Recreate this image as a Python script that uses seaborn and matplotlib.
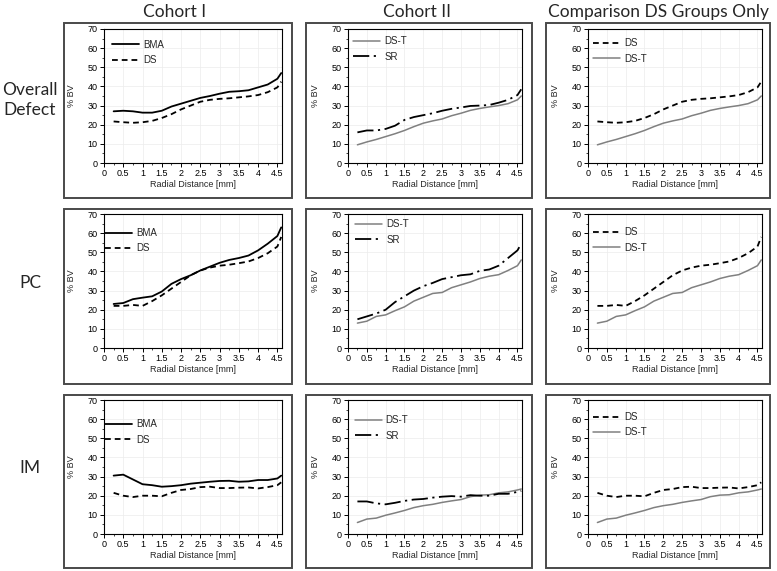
import numpy as np
import pandas as pd
import matplotlib
matplotlib.use("Agg")
import matplotlib.pyplot as plt
import seaborn as sns
from matplotlib.patches import Rectangle
from matplotlib.ticker import MultipleLocator

# ---------------- data ----------------
radial = [0.25, 0.5, 0.75, 1.0, 1.25, 1.5, 1.75, 2.0, 2.25, 2.5, 2.75,
          3.0, 3.25, 3.5, 3.75, 4.0, 4.25, 4.5, 4.6]

od_bma = [27, 27.3, 27, 26.3, 26.3, 27.3, 29.5, 31, 32.5, 34, 35, 36.2, 37.2, 37.5, 38, 39.5, 41, 44, 47]
od_ds = [21.7, 21.3, 21, 21.3, 22, 23.5, 25.5, 28, 30, 32, 33, 33.5, 33.8, 34.3, 34.8, 35.5, 37, 39.5, 42.5]
od_dst = [9.5, 11, 12.3, 13.8, 15.3, 17, 19, 20.8, 22, 23, 24.7, 26, 27.5, 28.5, 29.3, 30, 31, 33, 35]
od_sr = [16, 17, 17, 17.8, 19.5, 22.5, 24, 25, 26, 27.3, 28.3, 29, 29.8, 30, 30.3, 31.5, 33, 35.5, 38.5]

pc_bma = [23, 23.5, 25.5, 26.3, 27, 29.5, 33.5, 36, 38, 40.5, 42.5, 44.5, 46, 47, 48.3, 51, 54.5, 58.5, 63]
pc_ds = [22, 22, 22.5, 22, 24.5, 27.5, 31, 34.5, 38, 40.5, 42, 43, 43.5, 44.3, 45.2, 47, 49.5, 53, 58]
pc_dst = [13, 14, 16.5, 17.3, 19.5, 21.5, 24.5, 26.5, 28.5, 29, 31.5, 33, 34.5, 36.3, 37.5, 38.3, 40.5, 43, 46]
pc_sr = [15, 16.5, 18, 20, 24, 27, 30, 32.3, 34, 36, 37, 38, 38.5, 40.3, 41, 43, 47, 51, 54.5]

im_bma = [30.5, 31, 28.5, 26, 25.5, 24.7, 25, 25.5, 26.3, 26.8, 27.3, 27.7, 27.8, 27.3, 27.5, 28.2, 28.2, 29, 30.5]
im_ds = [21.5, 20, 19.3, 20, 20, 19.7, 21.5, 23, 23.5, 24.5, 24.7, 24, 24, 24.2, 24.3, 23.8, 24.5, 25.5, 27]
im_dst = [6, 7.8, 8.3, 9.8, 11, 12.3, 13.8, 14.8, 15.5, 16.5, 17.3, 18, 19.5, 20.3, 20.5, 21.5, 22, 23, 23.5]
im_sr = [17, 17, 16, 15.5, 16.3, 17.3, 18, 18.3, 19, 19.5, 19.8, 19.5, 20.3, 20, 20, 21, 21, 22, 22.5]

col_titles = ["Cohort I", "Cohort II", "Comparison DS Groups Only"]
row_titles = ["Overall\nDefect", "PC", "IM"]
x_label = "Radial Distance [mm]"
y_label = "% BV"

series = {
    "BMA": dict(color="black", lw=1.3, ls="-"),
    "DS": dict(color="black", lw=1.3, ls=(0, (3.2, 2.2))),
    "DS-T": dict(color="#808080", lw=1.1, ls="-"),
    "SR": dict(color="black", lw=1.3, ls=(0, (9, 2.5, 1.2, 2.5))),
}

rows = [
    {"BMA": od_bma, "DS": od_ds, "DS-T": od_dst, "SR": od_sr},
    {"BMA": pc_bma, "DS": pc_ds, "DS-T": pc_dst, "SR": pc_sr},
    {"BMA": im_bma, "DS": im_ds, "DS-T": im_dst, "SR": im_sr},
]
col_series = [["BMA", "DS"], ["DS-T", "SR"], ["DS", "DS-T"]]

# legend anchors (axes fraction) per panel
leg_anchor = [
    [(0.045, 0.92), (0.03, 0.945), (0.03, 0.93)],
    [(0.004, 0.895), (0.04, 0.96), (0.03, 0.90)],
    [(0.004, 0.855), (0.038, 0.885), (0.03, 0.91)],
]

# ---------------- layout ----------------
W, H = 777, 571
sns.set_theme(style="white")
plt.rcParams["font.family"] = ["Liberation Sans", "DejaVu Sans"]

fig = plt.figure(figsize=(W / 100, H / 100), dpi=100)
fig.patch.set_facecolor("white")

ax_cols = [(104, 282), (348, 522), (588, 762)]
ax_rows = [(29, 163), (214, 348), (400, 534)]
fr_cols = [(64, 292), (306, 532), (546, 770)]
fr_rows = [(23, 198), (209, 384), (395, 568)]

for (fx0, fx1) in fr_cols:
    for (fy0, fy1) in fr_rows:
        fig.patches.append(Rectangle((fx0 / W, 1 - fy1 / H), (fx1 - fx0) / W, (fy1 - fy0) / H,
                                     transform=fig.transFigure, fill=False,
                                     edgecolor="#4a4a4a", linewidth=1.4))

for r, (y0, y1) in enumerate(ax_rows):
    for c, (x0, x1) in enumerate(ax_cols):
        ax = fig.add_axes([x0 / W, 1 - y1 / H, (x1 - x0) / W, (y1 - y0) / H])
        for name in col_series[c]:
            st = series[name]
            df = pd.DataFrame({"x": radial, "y": rows[r][name]})
            sns.lineplot(data=df, x="x", y="y", ax=ax, color=st["color"],
                         linewidth=st["lw"], linestyle=st["ls"], label=name)
        ax.set_xlim(0, 4.62)
        ax.set_ylim(0, 70)
        ax.xaxis.set_major_locator(MultipleLocator(0.5))
        ax.xaxis.set_minor_locator(MultipleLocator(0.25))
        ax.yaxis.set_major_locator(MultipleLocator(10))
        ax.yaxis.set_minor_locator(MultipleLocator(5))
        ax.set_xticks(np.arange(0, 4.51, 0.5))
        ax.set_xticklabels(["0", "0.5", "1", "1.5", "2", "2.5", "3", "3.5", "4", "4.5"])
        ax.tick_params(axis="both", which="major", direction="out", length=3, width=0.7,
                       labelsize=6.5, pad=1.5, colors="black", bottom=True, left=True)
        ax.tick_params(axis="both", which="minor", direction="out", length=1.5, width=0.6,
                       bottom=True, left=True)
        ax.grid(True, which="major", color="#ececec", linewidth=0.5)
        for sp in ax.spines.values():
            sp.set_color("black")
            sp.set_linewidth(0.8)
        ax.set_xlabel(x_label, fontsize=6.5)
        ax.xaxis.set_label_coords(0.5, -0.125)
        ax.set_ylabel(y_label, fontsize=6.5)
        ax.yaxis.set_label_coords(-28 / (x1 - x0), 0.5)
        leg = ax.legend(loc="upper left", bbox_to_anchor=leg_anchor[r][c], frameon=False,
                        fontsize=7, handlelength=2.8, handletextpad=0.4,
                        labelspacing=0.55, borderpad=0, borderaxespad=0)

# titles
title_x = [175, 417, 659]
for t, xc in zip(col_titles, title_x):
    fig.text(xc / W, 1 - 12 / H, t, ha="center", va="center", fontsize=12.5,
             family=["Lato", "DejaVu Sans"])
row_y = [100, 283, 468]
for t, yc in zip(row_titles, row_y):
    fig.text(30 / W, 1 - yc / H, t, ha="center", va="center", fontsize=12.5,
             family=["Lato", "DejaVu Sans"], linespacing=1.25)

fig.savefig("out.png", dpi=100, facecolor="white")
